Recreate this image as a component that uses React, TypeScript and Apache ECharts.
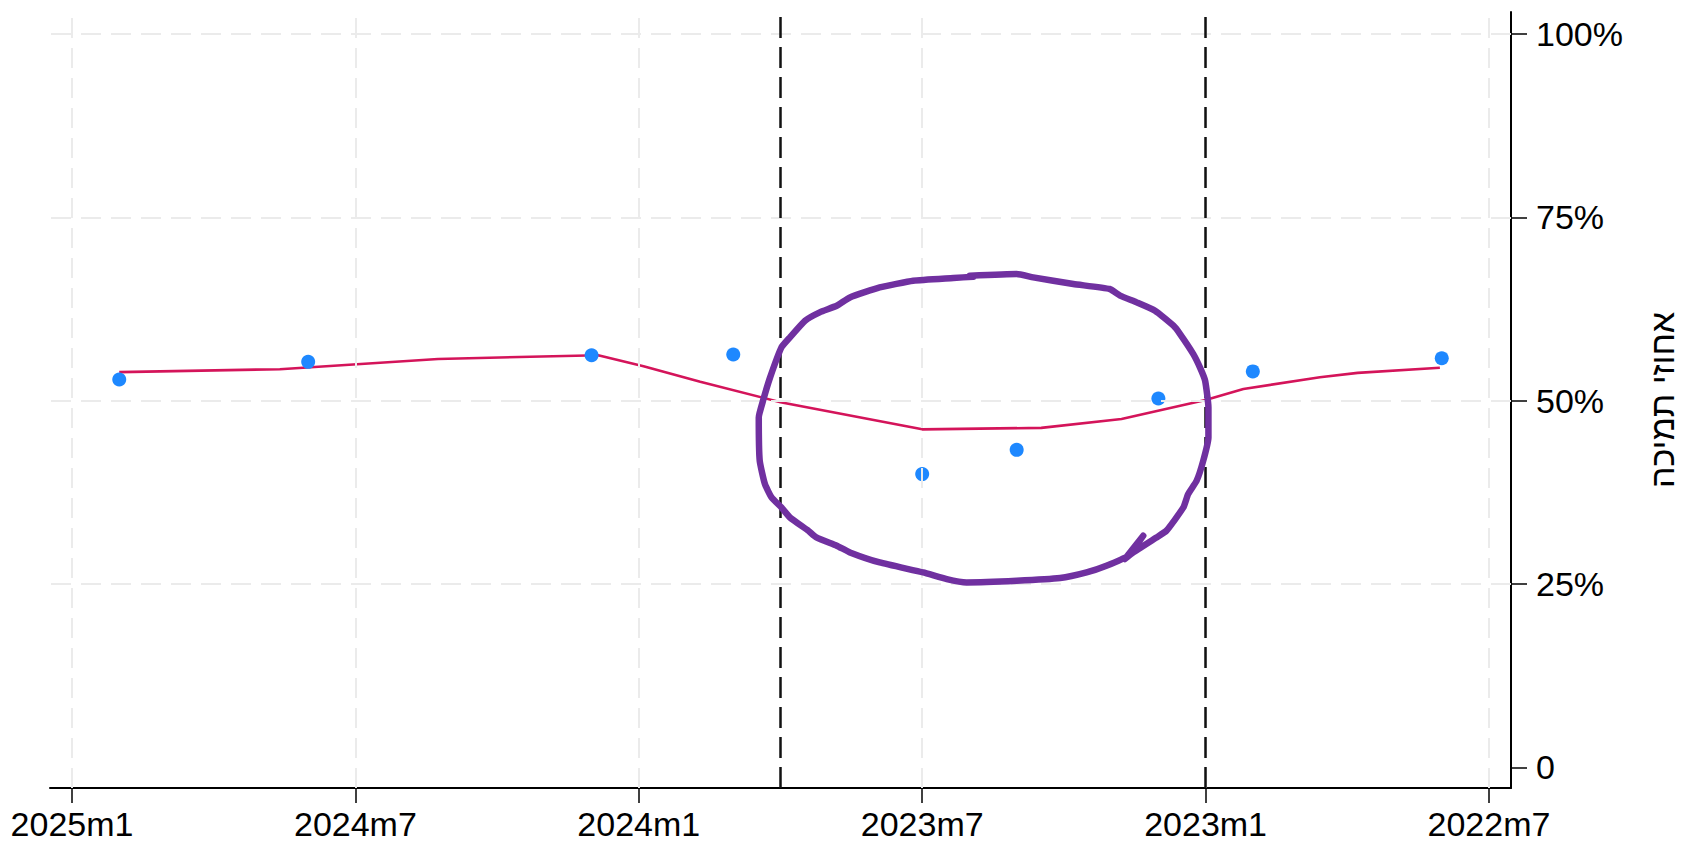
import React, { useEffect, useRef } from "react";
import * as echarts from "echarts";

// x values are months counted from 2022m1 (0 = 2022m1, 6 = 2022m7, ...)
const xTickMonths = [6, 12, 18, 24, 30, 36];
const yTickValues = [0, 25, 50, 75, 100];
const yGridValues = [25, 50, 75, 100];
const yAxisTitle = "אחוזי תמיכה";

const surveyMonths = [35, 31, 25, 22, 18, 16, 13, 11, 7];
const surveyValues = [52.9, 55.3, 56.2, 56.3, 40.0, 43.3, 50.3, 54.0, 55.8];

const trendMonths = [35, 31.6, 28.25, 24.86, 23.9, 22.7, 21, 18, 15.48, 13.78, 12, 11.2, 9.58, 8.78, 7.04];
const trendValues = [53.9, 54.3, 55.7, 56.2, 54.7, 52.6, 49.8, 46.1, 46.3, 47.5, 50.1, 51.6, 53.2, 53.8, 54.5];

const eventMonths = [21, 12];

// hand-drawn highlight loop, in (month, percent) coordinates
const circleMonths = [
  16.99, 16.0, 15.65, 14.8, 14.03, 13.81, 13.46, 13.07, 12.68, 12.54, 12.26, 12.12, 12.01, 11.94, 11.94,
  12.05, 12.19, 12.37, 12.47, 12.83, 13.04, 13.53, 13.71, 13.32, 13.64, 14.1, 14.52, 15.08, 16.0, 17.06,
  17.48, 17.98, 18.9, 19.53, 19.81, 20.24, 20.41, 20.8, 20.98, 21.19, 21.33, 21.44, 21.46, 21.37, 21.22,
  20.98, 20.8, 20.48, 20.17, 19.81, 19.53, 18.9, 18.19, 17.34, 16.92,
];
const circleValues = [
  67.05, 67.27, 66.82, 65.91, 65.23, 64.32, 63.41, 62.27, 60.23, 59.09, 56.36, 54.55, 52.73, 49.09, 45.0,
  41.82, 39.09, 37.27, 35.45, 32.27, 31.36, 29.32, 28.41, 31.59, 28.86, 27.5, 26.59, 25.82, 25.45, 25.23,
  25.68, 26.59, 27.95, 29.32, 30.23, 31.36, 32.27, 34.09, 35.45, 36.82, 38.64, 41.82, 47.73, 50.0, 53.18,
  57.27, 58.64, 60.91, 62.05, 62.95, 64.09, 65.45, 66.36, 66.73, 66.91,
];

const FONT = '"Liberation Sans", Helvetica, Arial, sans-serif';

function monthLabel(v: number): string {
  const m = Math.round(v);
  const year = 2022 + Math.floor(m / 12);
  const month = (m % 12) + 1;
  return `${year}m${month}`;
}

export default function App() {
  const ref = useRef<HTMLDivElement>(null);

  useEffect(() => {
    if (!ref.current) return;
    const chart = echarts.init(ref.current, null, { renderer: "svg" });

    const survey = surveyMonths.map((m, i) => [m, surveyValues[i]]);
    const trend = trendMonths.map((m, i) => [m, trendValues[i]]);
    const circle = circleMonths.map((m, i) => [m, circleValues[i]]);

    const gridLineStyle = { color: "#ebebeb", width: 2, type: [20, 10] as any };

    chart.setOption({
      animation: false,
      backgroundColor: "#ffffff",
      grid: { left: 50, right: 177, top: 12, bottom: 55, containLabel: false },
      xAxis: {
        type: "value",
        inverse: true,
        min: 5.534,
        max: 36.466,
        position: "bottom",
        axisLine: { show: true, onZero: false, lineStyle: { color: "#000", width: 2 } },
        axisTick: {
          show: true,
          customValues: xTickMonths,
          length: 15,
          inside: false,
          lineStyle: { color: "#000", width: 1.5 },
        },
        axisLabel: {
          show: true,
          customValues: xTickMonths,
          formatter: (v: number) => monthLabel(v),
          margin: 19,
          fontSize: 34,
          color: "#000",
          fontFamily: FONT,
        },
        splitLine: { show: false },
      },
      yAxis: {
        type: "value",
        position: "right",
        min: -2.8,
        max: 103,
        axisLine: { show: true, onZero: false, lineStyle: { color: "#000", width: 2 } },
        axisTick: {
          show: true,
          customValues: yTickValues,
          length: 16,
          inside: false,
          lineStyle: { color: "#000", width: 1.5 },
        },
        axisLabel: {
          show: true,
          customValues: yTickValues,
          formatter: (v: number) => (v === 0 ? "0" : `${v}%`),
          margin: 25,
          fontSize: 34,
          color: "#000",
          fontFamily: FONT,
        },
        splitLine: { show: false },
        name: yAxisTitle,
        nameLocation: "middle",
        nameRotate: 90,
        nameGap: 134,
        nameTextStyle: { fontSize: 34, color: "#000", fontFamily: FONT },
      },
      series: [
        {
          name: "gridlines",
          type: "line",
          data: survey,
          showSymbol: false,
          silent: true,
          lineStyle: { opacity: 0, width: 0 },
          z: 1,
          markLine: {
            silent: true,
            symbol: ["none", "none"],
            label: { show: false },
            lineStyle: gridLineStyle,
            emphasis: { disabled: true },
            data: [
              ...xTickMonths.map((m) => ({ xAxis: m })),
              ...yGridValues.map((v) => ({ yAxis: v })),
            ],
          },
        },
        {
          name: "events",
          type: "line",
          data: survey,
          showSymbol: false,
          silent: true,
          lineStyle: { opacity: 0, width: 0 },
          z: 2,
          markLine: {
            silent: true,
            symbol: ["none", "none"],
            label: { show: false },
            lineStyle: { color: "#111", width: 2.5, type: [21, 9] as any },
            emphasis: { disabled: true },
            data: eventMonths.map((m) => ({ xAxis: m })),
          },
        },
        {
          name: "trend",
          type: "line",
          data: trend,
          showSymbol: false,
          silent: true,
          lineStyle: { color: "#d4145a", width: 2.6 },
          z: 3,
        },
        {
          name: "survey",
          type: "scatter",
          data: survey,
          symbol: "circle",
          symbolSize: 14,
          silent: true,
          itemStyle: { color: "#1e88ff", opacity: 1 },
          z: 4,
        },
        {
          name: "highlight",
          type: "line",
          data: circle,
          showSymbol: false,
          silent: true,
          smooth: 0.15,
          lineStyle: { color: "#7030a0", width: 6.5, cap: "round", join: "round" },
          z: 5,
        },
      ],
    });

    return () => chart.dispose();
  }, []);

  return (
    <div
      ref={ref}
      style={{ position: "fixed", left: 0, top: 0, width: 1688, height: 843, background: "#fff" }}
    />
  );
}
